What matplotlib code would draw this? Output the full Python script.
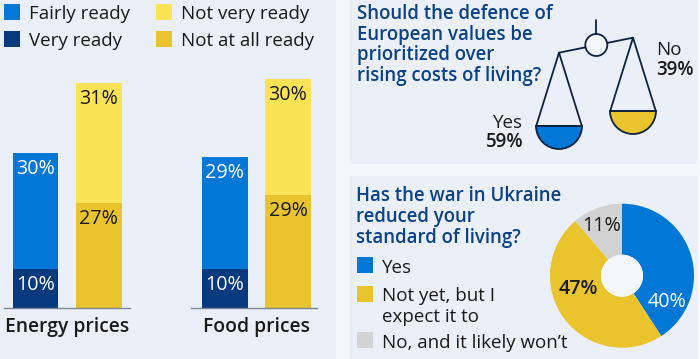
import matplotlib
matplotlib.use('Agg')
import matplotlib.pyplot as plt
from matplotlib.patches import Circle, Rectangle, Wedge

plt.rcParams['font.family'] = ['Open Sans', 'DejaVu Sans']

# data
price_groups = ['Energy prices', 'Food prices']
very_ready = [10, 10]
fairly_ready = [30, 29]
not_at_all_ready = [27, 29]
not_very_ready = [31, 30]

pie_labels = ['Yes', 'Not yet, but I\nexpect it to', 'No, and it likely won\u2019t']
pie_values = [40, 47, 11]

scale_yes = 59
scale_no = 39

BLUE = '#0277d6'
NAVY = '#07397f'
YELLOW = '#fae355'
GOLD = '#eac42c'
GREY = '#d2d2d2'
PANEL = '#ebf0f8'
PAGE = '#f3f7fb'
TITLE = '#0b4186'
INK = '#1a1a1a'
DARK = '#0c2340'

W, H = 700, 359


def px_axes(fig, x0, y0, x1, y1):
    # axes placed by pixel box, y counted from the top
    return fig.add_axes([x0 / W, 1 - y1 / H, (x1 - x0) / W, (y1 - y0) / H])


def main():
    fig = plt.figure(figsize=(7, 3.59), dpi=100, facecolor=PAGE)

    # panels at the back
    back = fig.add_axes([0, 0, 1, 1], zorder=0)
    back.set_xlim(0, W)
    back.set_ylim(H, 0)
    back.axis('off')
    back.add_patch(Rectangle((0, 0), 336, H, fc=PANEL, ec='none'))
    back.add_patch(Rectangle((350, 0), 347, 163.5, fc=PANEL, ec='none'))
    back.add_patch(Rectangle((350, 176), 347, 183, fc=PANEL, ec='none'))

    # overlay in pixel coordinates for legends, titles and the scales icon
    bg = fig.add_axes([0, 0, 1, 1], zorder=2)
    bg.set_xlim(0, W)
    bg.set_ylim(H, 0)
    bg.axis('off')
    bg.patch.set_alpha(0)

    # legend of the bars
    fs = 13.5
    pct = 14.2
    for x, y, c, t in [(4, 12, BLUE, 'Fairly ready'), (4, 38.5, NAVY, 'Very ready'),
                       (156, 12, YELLOW, 'Not very ready'), (156, 38.5, GOLD, 'Not at all ready')]:
        bg.add_patch(Rectangle((x, y - 8), 16, 16, fc=c, ec='none'))
        bg.text(x + 25, y + 2, t, fontsize=fs, color=INK, va='center', ha='left')

    # stacked bars
    ax = px_axes(fig, 0, 60, 336, 307.5)
    ax.set_zorder(1)
    ax.patch.set_alpha(0)
    ax.set_xlim(0, 336)
    ax.set_ylim(0, 247.5 / 3.87)
    ax.axis('off')
    left_x = [35.25, 225]
    right_x = [98.75, 288]
    bw = 45.5
    ax.bar(left_x, very_ready, bw, color=NAVY)
    ax.bar(left_x, fairly_ready, bw, bottom=very_ready, color=BLUE)
    ax.bar(right_x, not_at_all_ready, bw, color=GOLD)
    ax.bar(right_x, not_very_ready, bw, bottom=not_at_all_ready, color=YELLOW)
    for i in range(2):
        ax.text(left_x[i], very_ready[i] - 1.6, f'{very_ready[i]}%', color='white',
                fontsize=pct, ha='center', va='top')
        ax.text(left_x[i], very_ready[i] + fairly_ready[i] - 1.6, f'{fairly_ready[i]}%',
                color='white', fontsize=pct, ha='center', va='top')
        ax.text(right_x[i], not_at_all_ready[i] - 1.6, f'{not_at_all_ready[i]}%',
                color=INK, fontsize=pct, ha='center', va='top')
        ax.text(right_x[i], not_at_all_ready[i] + not_very_ready[i] - 1.6,
                f'{not_very_ready[i]}%', color=INK, fontsize=pct, ha='center', va='top')

    # baselines and group labels
    for x0, x1, lx, name in [(4, 130, 67.5, price_groups[0]), (191, 317, 256.5, price_groups[1])]:
        bg.plot([x0, x1], [307.5, 307.5], color='#7b8794', lw=1)
        bg.text(lx, 327, name, fontsize=13.9, fontweight=600,
                color=INK, ha='center', va='center')

    # question 1
    bg.text(357, 4, 'Should the defence of\nEuropean values be\nprioritized over\nrising costs of living?',
            fontsize=13.4, fontweight=600, color=TITLE, va='top', ha='left', linespacing=1.04)

    # scales icon
    line = dict(color=DARK, lw=1.3, solid_capstyle='round')
    bg.plot([596.3, 596.3], [20, 34], **line)
    bg.plot([559, 633], [52.7, 37.7], **line)
    bg.add_patch(Circle((596.3, 45), 11, fc=PAGE, ec=DARK, lw=1.3, zorder=4))
    for cx, top, col in [(559, 52.7, BLUE), (633, 37.7, GOLD)]:
        bottom = top + 73.3
        bg.plot([cx - 22.8, cx, cx + 22.8], [bottom, top, bottom], **line)
        bg.plot([cx - 23, cx + 23], [bottom, bottom], **line)
        bg.add_patch(Wedge((cx, bottom), 23, 0, 180, fc=col, ec=DARK, lw=1.3))
    bg.text(523, 122.5, 'Yes', fontsize=fs, color=INK, ha='right', va='center')
    bg.text(523, 142, f'{scale_yes}%', fontsize=fs, fontweight=600, color=INK, ha='right', va='center')
    bg.text(656, 50, 'No', fontsize=fs, color=INK, ha='left', va='center')
    bg.text(656, 70, f'{scale_no}%', fontsize=fs, fontweight=600, color=INK, ha='left', va='center')

    # question 2
    bg.text(356.5, 186, 'Has the war in Ukraine\nreduced your\nstandard of living?',
            fontsize=13.4, fontweight=600, color=TITLE, va='top', ha='left', linespacing=1.05)
    pie_colors = [BLUE, GOLD, GREY]
    for y, c, t in [(265, BLUE, pie_labels[0]), (294, GOLD, pie_labels[1]), (340, GREY, pie_labels[2])]:
        bg.add_patch(Rectangle((357, y - 8), 16, 16, fc=c, ec='none'))
        if '\n' in t:
            bg.text(382, y - 7, t, fontsize=fs, color=INK, va='top', ha='left', linespacing=1.2)
        else:
            bg.text(382, y + 3, t, fontsize=fs, color=INK, va='center', ha='left')

    # donut
    pie_ax = px_axes(fig, 550, 203.7, 694, 347.7)
    pie_ax.set_zorder(3)
    pie_ax.pie(pie_values, colors=pie_colors, startangle=90, counterclock=False, radius=1,
               wedgeprops=dict(width=51 / 72, linewidth=0))
    pie_ax.add_patch(Circle((0, 0), 21 / 72, fc=PAGE, ec='none'))
    pie_ax.set_xlim(-1, 1)
    pie_ax.set_ylim(-1, 1)
    for xy, v, c, w in [((0.63, -0.37), pie_values[0], 'white', 'normal'),
                        ((-0.60, -0.18), pie_values[1], INK, 600),
                        ((-0.28, 0.69), pie_values[2], INK, 'normal')]:
        pie_ax.text(xy[0], xy[1], f'{v}%', color=c, fontsize=pct, fontweight=w, ha='center', va='center')

    fig.savefig('out.png', dpi=100, facecolor=PAGE)


if __name__ == '__main__':
    main()
